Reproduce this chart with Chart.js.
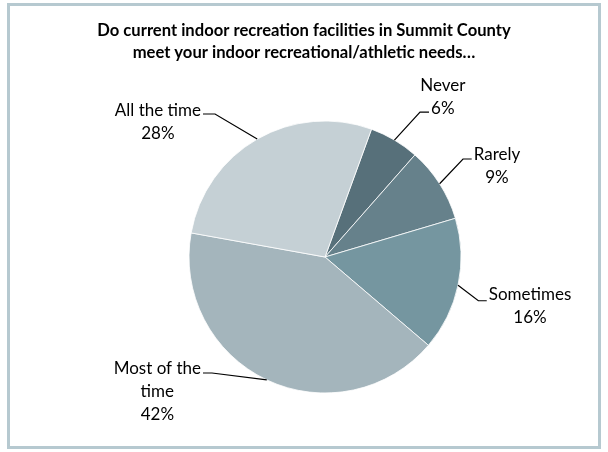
<!DOCTYPE html>
<html>
<head>
<meta charset="utf-8">
<script src="https://cdn.jsdelivr.net/npm/chart.js@4/dist/chart.umd.min.js"></script>
<style>
  html, body { margin: 0; padding: 0; background: #ffffff; }
  #wrap { width: 608px; height: 452px; position: relative; }
</style>
</head>
<body>
<div id="wrap"><canvas id="chart" width="608" height="452"></canvas></div>
<script>
// Survey question and answers
const titleLines = [
  'Do current indoor recreation facilities in Summit County',
  'meet your indoor recreational/athletic needs…'
];
const categories = ['Never', 'Rarely', 'Sometimes', 'Most of the time', 'All the time'];
const shares = [6, 9, 16, 42, 28];
const labelLines = [['Never'], ['Rarely'], ['Sometimes'], ['Most of the', 'time'], ['All the time']];

// Styling
const sliceColors = ['#57707a', '#66818b', '#7596a0', '#a4b5bc', '#c5d0d5'];
const labelFont = '17px Lato';
const titleFont = 'bold 16.6px Lato';
const labelLineHeight = 22.8;

// Callout geometry relative to each slice's outer edge midpoint:
// elbow offset, horizontal tick length, which text line the tick meets, text offset.
const calloutLayout = [
  { dx: 25.6,  dy: -28,   seg: 9,   attach: 1, ty: -4 },
  { dx: 23.4,  dy: -24.8, seg: 8.7, attach: 0, ty: -4 },
  { dx: 20.3,  dy: 15.5,  seg: 8.4, attach: 0, ty: -6 },
  { dx: -54.8, dy: -6.9,  seg: 9,   attach: 0, ty: -4 },
  { dx: -42.2, dy: -25.1, seg: 12,  attach: 0, ty: -3 }
];

const frameAndTitle = {
  id: 'frameAndTitle',
  beforeDraw(chart) {
    const ctx = chart.ctx;
    ctx.save();
    ctx.fillStyle = '#ffffff';
    ctx.fillRect(0, 0, chart.width, chart.height);
    ctx.strokeStyle = '#b6c9d0';
    ctx.lineWidth = 3;
    ctx.strokeRect(8.5, 4.5, chart.width - 17, chart.height - 9);
    ctx.fillStyle = '#000000';
    ctx.font = titleFont;
    ctx.textAlign = 'center';
    ctx.textBaseline = 'middle';
    titleLines.forEach((t, k) => ctx.fillText(t, chart.width / 2, 30.7 + k * 22));
    ctx.restore();
  }
};

const callouts = {
  id: 'callouts',
  afterDatasetsDraw(chart) {
    const ctx = chart.ctx;
    const meta = chart.getDatasetMeta(0);
    ctx.save();
    ctx.strokeStyle = '#000000';
    ctx.lineWidth = 1.2;
    ctx.fillStyle = '#000000';
    ctx.font = labelFont;
    ctx.textAlign = 'center';
    ctx.textBaseline = 'middle';
    meta.data.forEach((arc, i) => {
      const p = arc.getProps(['x', 'y', 'startAngle', 'endAngle', 'outerRadius'], true);
      const mid = (p.startAngle + p.endAngle) / 2;
      const px = p.x + Math.cos(mid) * p.outerRadius;
      const py = p.y + Math.sin(mid) * p.outerRadius;
      const L = calloutLayout[i];
      const right = Math.cos(mid) >= 0;
      const ex = px + L.dx, ey = py + L.dy;
      const sx = ex + (right ? L.seg : -L.seg);
      ctx.beginPath();
      ctx.moveTo(px, py);
      ctx.lineTo(ex, ey);
      ctx.lineTo(sx, ey);
      ctx.stroke();
      const lines = [...labelLines[i], shares[i] + '%'];
      const aw = ctx.measureText(lines[L.attach]).width;
      const cx = right ? sx + 2 + aw / 2 : sx - 2 - aw / 2;
      const ay = ey + L.ty;
      lines.forEach((t, k) => ctx.fillText(t, cx, ay + (k - L.attach) * labelLineHeight));
    });
    ctx.restore();
  }
};

new Chart(document.getElementById('chart'), {
  type: 'pie',
  data: {
    labels: categories,
    datasets: [{
      data: shares,
      backgroundColor: sliceColors,
      borderColor: '#ffffff',
      borderWidth: 0.8,
      hoverOffset: 0
    }]
  },
  options: {
    responsive: false,
    animation: false,
    events: [],
    rotation: 20,
    radius: 136,
    layout: { padding: { left: 42, right: 0, top: 62, bottom: 0 } },
    plugins: {
      legend: { display: false },
      tooltip: { enabled: false },
      title: { display: false }
    }
  },
  plugins: [frameAndTitle, callouts]
});
</script>
</body>
</html>
